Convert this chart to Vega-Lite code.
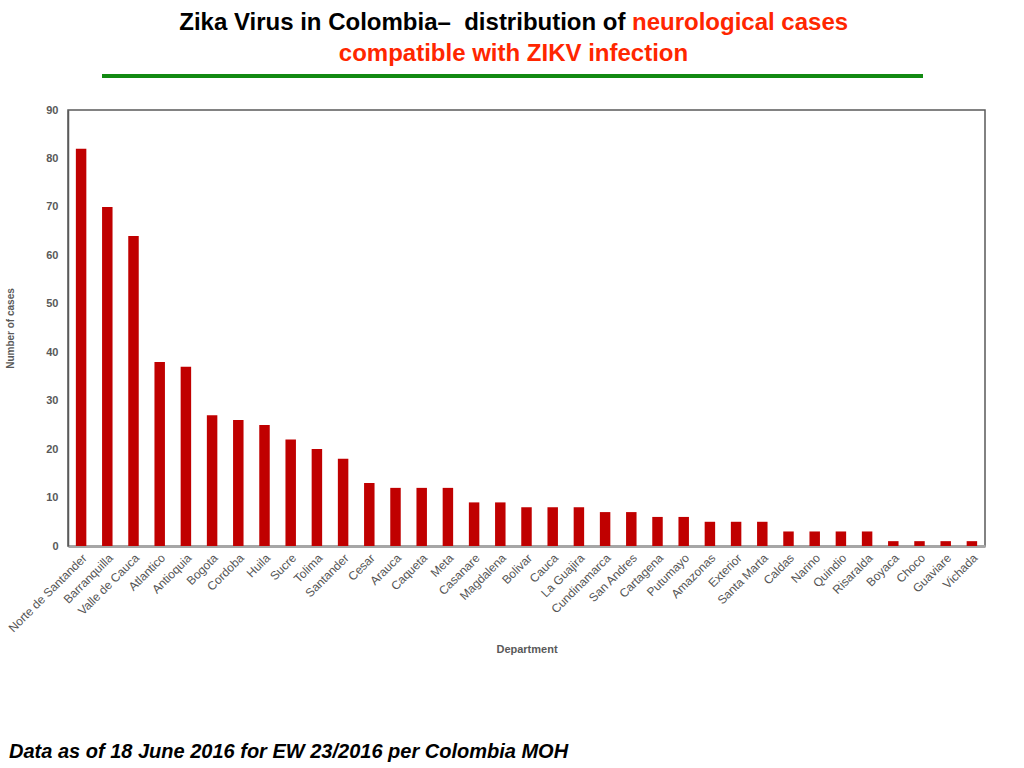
{
  "$schema": "https://vega.github.io/schema/vega-lite/v6.json",
  "padding": {"left": 5, "top": 8, "right": 5, "bottom": 5},
  "autosize": {"type": "pad"},
  "background": "white",
  "config": {
    "font": "Liberation Sans",
    "view": {"stroke": null}
  },
  "title": {
    "text": "Data as of 18 June 2016 for EW 23/2016 per Colombia MOH",
    "orient": "bottom",
    "anchor": "start",
    "offset": 86,
    "dx": 4,
    "font": "Liberation Sans",
    "fontSize": 20,
    "fontStyle": "italic",
    "fontWeight": "bold",
    "color": "#000000"
  },
  "spacing": 25,
  "vconcat": [
    {
      "spacing": 0,
      "hconcat": [
        {
          "width": 32,
          "height": 68,
          "data": {"values": []},
          "mark": "point"
        },
        {
          "width": 821,
          "height": 68,
          "data": {
            "values": [
              {"line": "1", "part": "lead", "text": "Zika Virus in Colombia–\u00a0 distribution of"},
              {"line": "1", "part": "tail", "text": "neurological cases"},
              {"line": "2", "part": "full", "text": "compatible with ZIKV infection"}
            ]
          },
          "encoding": {
            "y": {
              "field": "line",
              "type": "ordinal",
              "scale": {"type": "band", "paddingInner": 0, "paddingOuter": 0.12, "align": 0},
              "axis": null
            }
          },
          "layer": [
            {
              "transform": [{"filter": "datum.part == 'lead'"}],
              "mark": {"type": "text", "align": "right", "baseline": "middle", "dx": 113, "fontSize": 24, "fontWeight": "bold", "color": "#000000"},
              "encoding": {"text": {"field": "text"}}
            },
            {
              "transform": [{"filter": "datum.part == 'tail'"}],
              "mark": {"type": "text", "align": "left", "baseline": "middle", "dx": 119.5, "fontSize": 24, "fontWeight": "bold", "color": "#ff2600"},
              "encoding": {"text": {"field": "text"}}
            },
            {
              "transform": [{"filter": "datum.part == 'full'"}],
              "mark": {"type": "text", "align": "center", "baseline": "middle", "dx": 1, "fontSize": 24, "fontWeight": "bold", "color": "#ff2600"},
              "encoding": {"text": {"field": "text"}}
            },
            {
              "transform": [{"filter": "datum.part == 'full'"}],
              "mark": {"type": "rule", "color": "#128a12", "strokeWidth": 4},
              "encoding": {"y": {"value": "height"}}
            }
          ]
        }
      ]
    },
    {
      "width": 917,
      "height": 436,
      "view": {"stroke": "#5a5a5a", "strokeWidth": 1.5},
      "data": {
        "values": [
          {"department": "Norte de Santander", "cases": 82},
          {"department": "Barranquilla", "cases": 70},
          {"department": "Valle de Cauca", "cases": 64},
          {"department": "Atlantico", "cases": 38},
          {"department": "Antioquia", "cases": 37},
          {"department": "Bogota", "cases": 27},
          {"department": "Cordoba", "cases": 26},
          {"department": "Huila", "cases": 25},
          {"department": "Sucre", "cases": 22},
          {"department": "Tolima", "cases": 20},
          {"department": "Santander", "cases": 18},
          {"department": "Cesar", "cases": 13},
          {"department": "Arauca", "cases": 12},
          {"department": "Caqueta", "cases": 12},
          {"department": "Meta", "cases": 12},
          {"department": "Casanare", "cases": 9},
          {"department": "Magdalena", "cases": 9},
          {"department": "Bolivar", "cases": 8},
          {"department": "Cauca", "cases": 8},
          {"department": "La Guajira", "cases": 8},
          {"department": "Cundinamarca", "cases": 7},
          {"department": "San Andres", "cases": 7},
          {"department": "Cartagena", "cases": 6},
          {"department": "Putumayo", "cases": 6},
          {"department": "Amazonas", "cases": 5},
          {"department": "Exterior", "cases": 5},
          {"department": "Santa Marta", "cases": 5},
          {"department": "Caldas", "cases": 3},
          {"department": "Narino", "cases": 3},
          {"department": "Quindio", "cases": 3},
          {"department": "Risaralda", "cases": 3},
          {"department": "Boyaca", "cases": 1},
          {"department": "Choco", "cases": 1},
          {"department": "Guaviare", "cases": 1},
          {"department": "Vichada", "cases": 1}
        ]
      },
      "mark": {"type": "bar", "color": "#c00000"},
      "encoding": {
        "x": {
          "field": "department",
          "type": "nominal",
          "sort": null,
          "title": "Department",
          "scale": {"paddingInner": 0.6, "paddingOuter": 0.3},
          "axis": {
            "labelAngle": -45,
            "labelFontSize": 12,
            "labelFontWeight": "normal",
            "labelColor": "#555555",
            "labelPadding": 6,
            "ticks": false,
            "domainColor": "#a6a6a6",
            "domainWidth": 3,
            "titleFontSize": 11,
            "titleFontWeight": "bold",
            "titleColor": "#595959",
            "titlePadding": 10
          }
        },
        "y": {
          "field": "cases",
          "type": "quantitative",
          "title": "Number of cases",
          "scale": {"domain": [0, 90], "nice": false},
          "axis": {
            "values": [0, 10, 20, 30, 40, 50, 60, 70, 80, 90],
            "grid": false,
            "ticks": false,
            "labelPadding": 10,
            "labelFontSize": 11,
            "labelFontWeight": "bold",
            "labelColor": "#595959",
            "domainColor": "#5a5a5a",
            "domainWidth": 1.5,
            "titleFontSize": 10,
            "titleFontWeight": "bold",
            "titleColor": "#595959",
            "titlePadding": 30
          }
        }
      }
    }
  ]
}
